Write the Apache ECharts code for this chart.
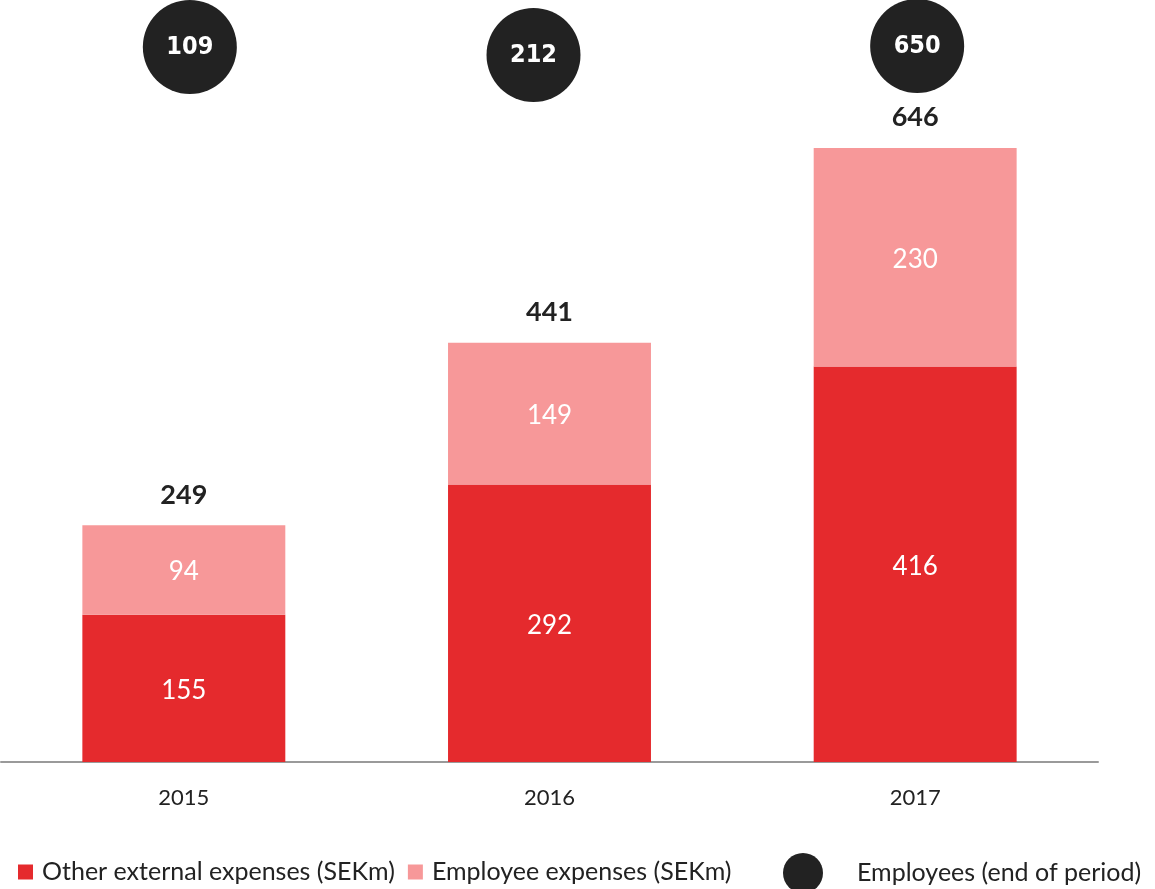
<!DOCTYPE html>
<html><head><meta charset="utf-8">
<script src="https://cdn.jsdelivr.net/npm/echarts@6/dist/echarts.min.js"></script>
<style>html,body{margin:0;padding:0;background:#fff}#c{width:1155px;height:889px}</style>
</head><body><div id="c"></div>
<script>
const categories = ['2015', '2016', '2017'];
const otherExternal = [155, 292, 416];
const employeeExp = [94, 149, 230];
const totals = [249, 441, 646];
const employees = [109, 212, 650];

const FONT = 'Lato, "Source Sans Pro", "Noto Sans", sans-serif';
const chart = echarts.init(document.getElementById('c'));
const circleOffsets = [[6, 0], [-16, 8], [2, -1]];
chart.setOption({
  animation: false,
  grid: [
    { left: 1, width: 1097, bottom: 127, top: 96.6 },
    { left: 1, width: 1097, top: 0, height: 94 }
  ],
  xAxis: [
    { type: 'category', data: categories, gridIndex: 0,
      axisLine: { lineStyle: { color: '#9a9a9a', width: 2 } },
      axisTick: { show: false },
      axisLabel: { color: '#222', fontSize: 22, fontFamily: FONT, margin: 25 } },
    { type: 'category', data: categories, gridIndex: 1, show: false }
  ],
  yAxis: [
    { type: 'value', min: 0, max: 700, gridIndex: 0, show: false, splitLine: { show: false } },
    { type: 'value', min: 0, max: 1, gridIndex: 1, show: false, splitLine: { show: false } }
  ],
  legend: [
    { left: 13, top: 858, padding: [0, 5], itemWidth: 15, itemHeight: 15, itemGap: 13, icon: 'rect',
      textStyle: { fontSize: 25, lineHeight: 28, color: '#222', fontFamily: FONT, padding: [0, 0, 0, 4] },
      data: ['Other external expenses (SEKm)', 'Employee expenses (SEKm)'] },
    { left: 778, top: 853, padding: [0, 5], itemWidth: 40, itemHeight: 40, icon: 'circle',
      textStyle: { fontSize: 25, color: '#222', fontFamily: FONT, padding: [0, 0, 0, 29] },
      data: ['Employees (end of period)'] }
  ],
  series: [
    { name: 'Other external expenses (SEKm)', type: 'bar', stack: 'e', data: otherExternal,
      barCategoryGap: '44.5%', itemStyle: { color: '#e52a2d' },
      label: { show: true, position: 'inside', offset: [0, 2], color: '#fff', fontSize: 26, fontFamily: FONT } },
    { name: 'Employee expenses (SEKm)', type: 'bar', stack: 'e', data: employeeExp,
      itemStyle: { color: '#f79899' },
      label: { show: true, position: 'inside', offset: [0, 2], color: '#fff', fontSize: 26, fontFamily: FONT } },
    { type: 'scatter', data: totals.map((v, i) => [i, v]), symbolSize: 0, silent: true,
      itemStyle: { opacity: 1 },
      label: { show: true, position: 'top', distance: 17, color: '#222', fontSize: 27,
        fontWeight: 'bold', fontFamily: FONT, formatter: p => p.value[1] } },
    { name: 'Employees (end of period)', type: 'scatter', xAxisIndex: 1, yAxisIndex: 1,
      data: employees.map((v, i) => ({ value: [i, 0.5, v], symbolOffset: circleOffsets[i] })),
      symbol: 'circle', symbolSize: 94, itemStyle: { color: '#222222', opacity: 1 },
      label: { show: true, position: 'inside', color: '#fff', fontSize: 25, fontWeight: 'bold',
        fontFamily: '"Liberation Sans Narrow", "DejaVu Sans Condensed", sans-serif',
        formatter: p => p.value[2] } }
  ]
});
</script></body></html>
